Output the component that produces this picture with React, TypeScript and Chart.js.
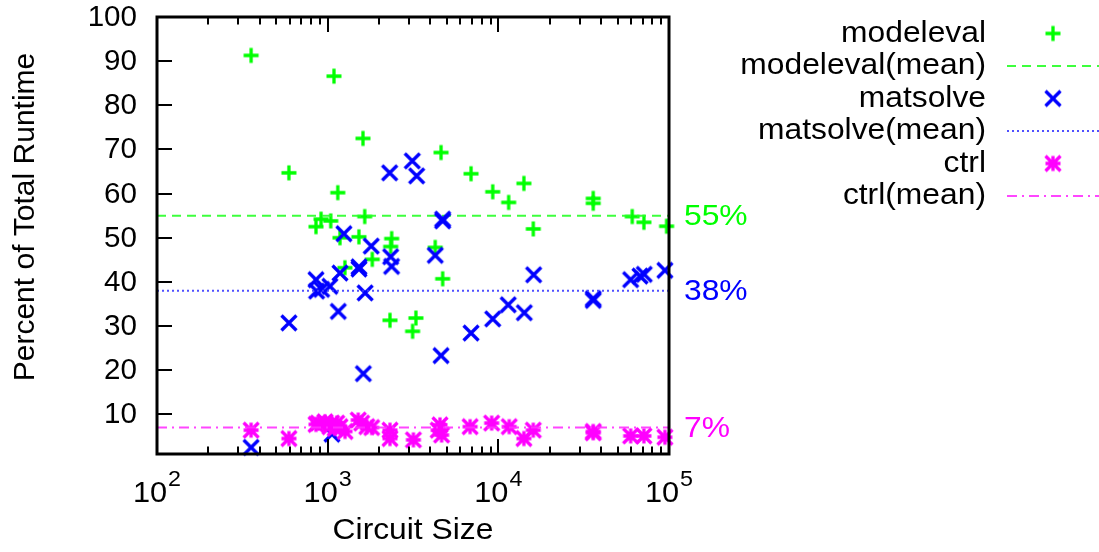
import React, { useEffect, useRef } from 'react';
import { Chart, registerables } from 'chart.js';

Chart.register(...registerables);

// ---------- data ----------
const modelevalSize = [356, 1089, 1610, 593, 1146, 914, 854, 1042, 1648, 1181, 1524, 2371, 2340, 1825, 1262, 2317, 3290, 3145, 4614, 6918, 9270, 11490, 14120, 16030, 4266, 4720, 35980, 35980, 60900, 71300, 96800];
const modelevalPct = [91.3, 86.6, 72.5, 64.7, 60.2, 54.2, 52.5, 53.8, 54.8, 50.0, 50.2, 49.8, 48.0, 45.1, 43.2, 31.3, 31.8, 28.8, 69.3, 64.5, 60.4, 58.0, 62.3, 52.0, 47.8, 40.7, 58.9, 57.8, 54.8, 53.5, 52.6];

const matsolveSize = [3133, 3322, 2307, 4720, 4720, 1245, 1800, 2339, 4266, 2370, 1525, 1525, 1181, 854, 922, 1031, 861, 1657, 593, 1154, 1618, 356, 1060, 4614, 6918, 9270, 11430, 14190, 16100, 35980, 35980, 59600, 67600, 71600, 94600];
const matsolvePct = [67.4, 64.0, 64.7, 54.2, 53.8, 50.9, 48.1, 45.7, 46.0, 43.5, 43.4, 42.9, 42.0, 40.5, 38.3, 39.0, 37.9, 37.5, 30.7, 33.3, 19.2, 2.5, 5.5, 23.3, 28.4, 31.6, 34.8, 33.0, 41.6, 36.2, 35.8, 40.5, 41.3, 41.7, 42.6];

const ctrlSize = [356, 593, 854, 881, 964, 1031, 1055, 1105, 1130, 1181, 1264, 1510, 1582, 1695, 1810, 2317, 2317, 3180, 4440, 4550, 4650, 6830, 9140, 11580, 14120, 16030, 35980, 35980, 59600, 71300, 94600];
const ctrlPct = [6.4, 4.5, 7.7, 8.0, 8.3, 7.2, 8.0, 6.8, 8.0, 7.2, 6.1, 8.7, 8.0, 7.2, 7.0, 6.4, 4.5, 4.2, 6.4, 7.6, 5.3, 7.2, 8.0, 7.2, 4.5, 6.4, 5.8, 6.1, 5.1, 5.1, 4.8];

const seriesNames = ['modeleval', 'matsolve', 'ctrl'];
const meanValues = [55, 38, 7];
const meanLabels = ['55%', '38%', '7%'];
const xRange = [100, 100000];
const yRange = [1, 100];
const xTickExponents = [2, 3, 4, 5];
const yTickValues = [10, 20, 30, 40, 50, 60, 70, 80, 90, 100];
const xTitle = 'Circuit Size';
const yTitle = 'Percent of Total Runtime';

// ---------- styles ----------
const FONT = '"Liberation Sans", Arial, Helvetica, sans-serif';
const STRETCH = 1.06;
const pointColors = ['#00ff00', '#0000ff', '#ff00ff'];
const meanColors = ['rgba(40,255,40,0.9)', 'rgba(60,60,255,0.9)', 'rgba(255,50,255,0.9)'];
const meanDashes = [[9, 6], [2, 3], [10, 5, 2, 5]];
const markerKinds = ['plus', 'x', 'star'];
const markerHalf = [7.5, 7.5, 7.5];

function toPoints(xs: number[], ys: number[]) {
  return xs.map((x, i) => ({ x, y: ys[i] }));
}

function makeMarker(kind: string, color: string, half: number) {
  const size = 24;
  const c = document.createElement('canvas');
  c.width = size;
  c.height = size;
  const g = c.getContext('2d') as CanvasRenderingContext2D;
  const m = size / 2;
  g.strokeStyle = color;
  g.lineWidth = 3.3;
  g.lineCap = 'butt';
  g.beginPath();
  if (kind === 'plus' || kind === 'star') {
    g.moveTo(m - half, m); g.lineTo(m + half, m);
    g.moveTo(m, m - half); g.lineTo(m, m + half);
  }
  if (kind === 'x' || kind === 'star') {
    g.moveTo(m - half, m - half); g.lineTo(m + half, m + half);
    g.moveTo(m - half, m + half); g.lineTo(m + half, m - half);
  }
  g.stroke();
  return c;
}

function textS(ctx: CanvasRenderingContext2D, text: string, x: number, y: number, align: string, sx: number) {
  const w = ctx.measureText(text).width * sx;
  let left = x;
  if (align === 'right') left = x - w;
  else if (align === 'center') left = x - w / 2;
  ctx.save();
  ctx.textAlign = 'left';
  ctx.translate(left, y);
  ctx.scale(sx, 1);
  ctx.fillText(text, 0, 0);
  ctx.restore();
  return w;
}

let markerImages: HTMLCanvasElement[] = [];

const decorPlugin = {
  id: 'gnuplotDecor',
  afterDatasetsDraw(chart: any) {
    const { ctx, chartArea: a, scales } = chart;
    const xs = scales.x;
    const ys = scales.y;
    ctx.save();
    ctx.strokeStyle = '#000';
    ctx.fillStyle = '#000';
    ctx.lineWidth = 2;
    ctx.setLineDash([]);
    ctx.beginPath();
    yTickValues.forEach((v) => {
      const py = Math.round(ys.getPixelForValue(v));
      ctx.moveTo(a.left, py);
      ctx.lineTo(a.left + 15, py);
    });
    for (let e = xTickExponents[0]; e < xTickExponents[xTickExponents.length - 1]; e++) {
      for (let m = 1; m <= 9; m++) {
        const px = Math.round(xs.getPixelForValue(m * Math.pow(10, e)));
        const len = m === 1 ? 15 : 7.5;
        ctx.moveTo(px, a.bottom);
        ctx.lineTo(px, a.bottom - len);
        ctx.moveTo(px, a.top);
        ctx.lineTo(px, a.top + len);
      }
    }
    ctx.stroke();
    ctx.lineWidth = 3;
    ctx.strokeRect(a.left, a.top, a.right - a.left, a.bottom - a.top);

    // y tick labels
    ctx.font = `29px ${FONT}`;
    ctx.textBaseline = 'middle';
    yTickValues.forEach((v) => {
      textS(ctx, String(v), a.left - 20, ys.getPixelForValue(v) + 1, 'right', 1.02);
    });

    // x tick labels 10^n
    ctx.textBaseline = 'alphabetic';
    xTickExponents.forEach((e) => {
      const px = xs.getPixelForValue(Math.pow(10, e));
      ctx.font = `29px ${FONT}`;
      const bw = ctx.measureText('10').width * STRETCH;
      ctx.font = `22px ${FONT}`;
      const ew = ctx.measureText(String(e)).width * STRETCH;
      const left = px - (bw + ew + 1) / 2;
      ctx.font = `29px ${FONT}`;
      textS(ctx, '10', left, 502, 'left', STRETCH);
      ctx.font = `22px ${FONT}`;
      textS(ctx, String(e), left + bw + 1, 486, 'left', STRETCH);
    });

    // axis titles
    ctx.font = `30px ${FONT}`;
    ctx.textBaseline = 'middle';
    textS(ctx, xTitle, (a.left + a.right) / 2, 531, 'center', STRETCH);
    ctx.save();
    ctx.translate(26, 217);
    ctx.rotate(-Math.PI / 2);
    ctx.textAlign = 'center';
    ctx.fillText(yTitle, 0, 0);
    ctx.restore();

    // mean labels
    meanValues.forEach((v, i) => {
      ctx.fillStyle = pointColors[i];
      textS(ctx, meanLabels[i], a.right + 15, ys.getPixelForValue(v) + 1, 'left', STRETCH);
    });

    // legend
    const legendRight = 986;
    const rowY0 = 33.5;
    const rowStep = 32.5;
    seriesNames.forEach((name, i) => {
      const yP = rowY0 + rowStep * (2 * i);
      const yM = rowY0 + rowStep * (2 * i + 1);
      ctx.fillStyle = '#000';
      textS(ctx, name, legendRight, yP, 'right', STRETCH);
      textS(ctx, `${name}(mean)`, legendRight, yM, 'right', STRETCH);
      const img = markerImages[i];
      if (img) ctx.drawImage(img, 1053 - img.width / 2, yP - img.height / 2);
      ctx.strokeStyle = meanColors[i];
      ctx.lineWidth = 2;
      ctx.setLineDash(meanDashes[i]);
      ctx.beginPath();
      ctx.moveTo(1007, yM);
      ctx.lineTo(1099, yM);
      ctx.stroke();
    });
    ctx.restore();
  },
};

export default function App() {
  const canvasRef = useRef<HTMLCanvasElement | null>(null);

  useEffect(() => {
    document.body.style.margin = '0';
    const canvas = canvasRef.current;
    if (!canvas) return;
    markerImages = markerKinds.map((k, i) => makeMarker(k, pointColors[i], markerHalf[i]));
    const seriesX = [modelevalSize, matsolveSize, ctrlSize];
    const seriesY = [modelevalPct, matsolvePct, ctrlPct];
    const datasets: any[] = [];
    seriesNames.forEach((name, i) => {
      datasets.push({
        type: 'scatter',
        label: name,
        data: toPoints(seriesX[i], seriesY[i]),
        pointStyle: markerImages[i],
        pointRadius: 8,
        borderColor: pointColors[i],
        backgroundColor: pointColors[i],
        showLine: false,
        clip: false,
        order: 6 - 2 * i,
      });
      datasets.push({
        type: 'line',
        label: `${name}(mean)`,
        data: xRange.map((x) => ({ x, y: meanValues[i] })),
        borderColor: meanColors[i],
        borderWidth: 2,
        borderDash: meanDashes[i],
        pointRadius: 0,
        fill: false,
        clip: false,
        order: 5 - 2 * i,
      });
    });

    const chart = new Chart(canvas, {
      type: 'scatter',
      data: { datasets },
      options: {
        animation: false,
        responsive: false,
        maintainAspectRatio: false,
        events: [],
        layout: { padding: { left: 0, top: 17, right: 430, bottom: 0 } },
        plugins: { legend: { display: false }, tooltip: { enabled: false }, title: { display: false } },
        scales: {
          x: {
            type: 'logarithmic',
            min: xRange[0],
            max: xRange[1],
            grid: { display: false },
            border: { display: false },
            ticks: { display: false },
            afterFit: (s: any) => { s.height = 98; },
          },
          y: {
            type: 'linear',
            min: yRange[0],
            max: yRange[1],
            grid: { display: false },
            border: { display: false },
            ticks: { display: false },
            afterFit: (s: any) => { s.width = 157; },
          },
        },
      } as any,
      plugins: [decorPlugin],
    });
    return () => chart.destroy();
  }, []);

  return (
    <div style={{ width: 1099, height: 552, background: '#fff' }}>
      <canvas ref={canvasRef} width={1099} height={552} style={{ width: 1099, height: 552, display: 'block' }} />
    </div>
  );
}
